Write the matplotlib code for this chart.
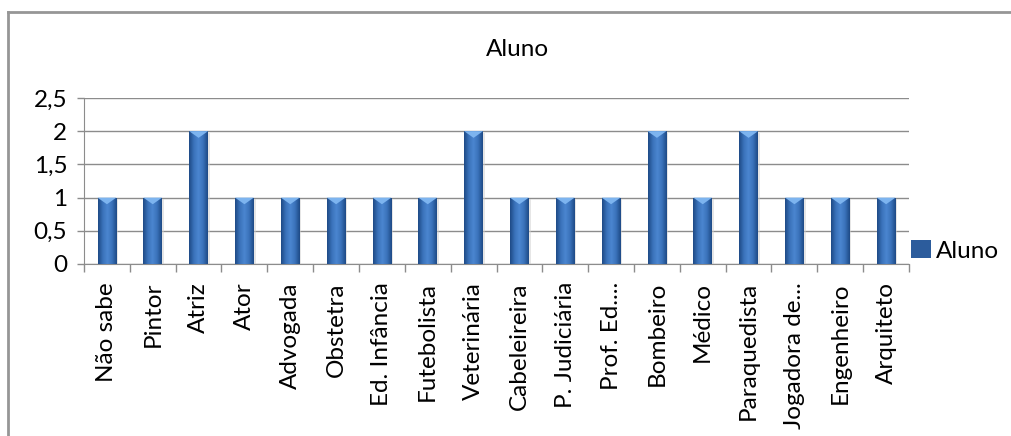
import numpy as np
import matplotlib
matplotlib.use('Agg')
import matplotlib.pyplot as plt
from matplotlib.patches import Rectangle, Polygon
from matplotlib.lines import Line2D
from matplotlib.colors import LinearSegmentedColormap

plt.rcParams['font.family'] = ['Lato', 'DejaVu Sans']

categorias = ['Não sabe', 'Pintor', 'Atriz', 'Ator', 'Advogada', 'Obstetra',
              'Ed. Infância', 'Futebolista', 'Veterinária', 'Cabeleireira',
              'P. Judiciária', 'Prof. Ed....', 'Bombeiro', 'Médico',
              'Paraquedista', 'Jogadora de...', 'Engenheiro', 'Arquiteto']
valores = [1, 1, 2, 1, 1, 1, 1, 1, 2, 1, 1, 1, 2, 1, 2, 1, 1, 1]
y_ticks = [0, 0.5, 1, 1.5, 2, 2.5]
y_labels = ['0', '0,5', '1', '1,5', '2', '2,5']

W, H = 1011, 436
FS = 17.5
fig = plt.figure(figsize=(W / 100, H / 100), dpi=100)

# moldura do gráfico (só aparecem borda esquerda e superior)
borda = dict(transform=fig.transFigure, color='#969696', linewidth=2)
fig.lines.append(Line2D([8 / W, 8 / W], [0, 1 - 12 / H], **borda))
fig.lines.append(Line2D([8 / W, 1], [1 - 12 / H, 1 - 12 / H], **borda))

ax = fig.add_axes([84 / W, (H - 264) / H, (909 - 84) / W, (264 - 98) / H])

x = np.arange(len(categorias))
larg = 0.41
bars = ax.bar(x, valores, width=larg, color='#2c5c9c', zorder=3, label='Aluno')

cmap = LinearSegmentedColormap.from_list('barra', ['#1e4a86', '#3a72ba', '#4b86d0', '#3a72ba', '#1e4a86'])
grad = np.linspace(0, 1, 64).reshape(1, -1)
for b in bars:
    x0, w, h = b.get_x(), b.get_width(), b.get_height()
    # sombra leve
    ax.add_patch(Rectangle((x0 + 0.04, 0), w, h - 0.02, color='#cfcfcf', alpha=0.5, zorder=2, linewidth=0))
    im = ax.imshow(grad, cmap=cmap, extent=(x0, x0 + w, 0, h), aspect='auto', zorder=3.5)
    im.set_clip_path(b)
    # bisel no topo
    tri = Polygon([(x0, h), (x0 + w, h), (x0 + w * 0.5, h - 0.1)], closed=True,
                  facecolor='#7db4ef', edgecolor='none', zorder=4)
    ax.add_patch(tri)

ax.set_xlim(-0.5, len(categorias) - 0.5)
ax.set_ylim(0, 2.5)
ax.set_yticks(y_ticks)
ax.set_yticklabels(y_labels, fontsize=FS)
ax.set_xticks(x)
ax.set_xticklabels(categorias, rotation=90, fontsize=FS)
ax.set_xticks(np.arange(-0.5, len(categorias)), minor=True)
ax.tick_params(axis='x', which='major', length=0, pad=13)
ax.tick_params(axis='x', which='minor', length=5.5, color='#8c8c8c', width=1)
ax.tick_params(axis='y', length=5, color='#8c8c8c', width=1, pad=7)

ax.grid(axis='y', color='#8c8c8c', linewidth=1, zorder=0)
for s in ['top', 'right']:
    ax.spines[s].set_visible(False)
ax.spines['left'].set_color('#8c8c8c')
ax.spines['bottom'].set_color('#8c8c8c')
ax.set_axisbelow(True)

fig.text(517 / W, (H - 50) / H, 'Aluno', ha='center', va='center', fontsize=FS)

leg = ax.legend(loc='center left', bbox_to_anchor=(1.0, 0.08), frameon=False,
                fontsize=FS, handlelength=0.8, handleheight=0.8, handletextpad=0.2,
                borderaxespad=0.0, borderpad=0.1)

fig.savefig('out.png', dpi=100)
